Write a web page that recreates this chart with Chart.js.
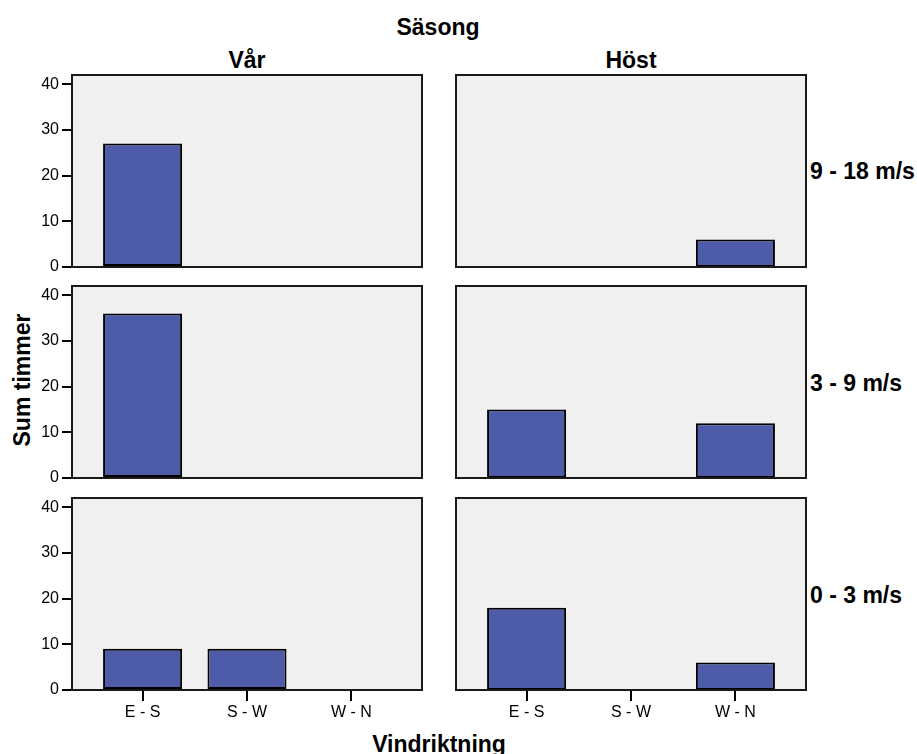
<!DOCTYPE html>
<html>
<head>
<meta charset="utf-8">
<script src="https://cdn.jsdelivr.net/npm/chart.js@4.4.1/dist/chart.umd.min.js"></script>
<style>
  body { margin: 0; background: #fff; font-family: "Liberation Sans", Arial, sans-serif; }
  #wrap { position: relative; width: 917px; height: 754px; }
  canvas { position: absolute; }
  .lbl { position: absolute; font-weight: bold; font-size: 23px; line-height: 1; white-space: nowrap; color: #000; }
  .c { transform: translate(-50%, -50%); }
  .l { transform: translate(0, -50%); }
</style>
</head>
<body>
<div id="wrap">
  <div class="lbl c" style="left:438px; top:27px;">Säsong</div>
  <div class="lbl c" style="left:247px; top:60px;">Vår</div>
  <div class="lbl c" style="left:631px; top:60px;">Höst</div>
  <div class="lbl l" style="left:810px; top:171px;">9 - 18 m/s</div>
  <div class="lbl l" style="left:810px; top:383px;">3 - 9 m/s</div>
  <div class="lbl l" style="left:810px; top:595px;">0 - 3 m/s</div>
  <div class="lbl c" style="left:22px; top:380px; transform: translate(-50%, -50%) rotate(-90deg);">Sum timmer</div>
  <div class="lbl c" style="left:439px; top:744px;">Vindriktning</div>
</div>
<script>
const directions = ['E - S', 'S - W', 'W - N'];
const yTicks = [0, 10, 20, 30, 40];
const yMax = 42;

// Sum timmer per vindriktning, one array per panel
const varHigh = [27, 0, 0];
const hostHigh = [0, 0, 6];
const varMid = [36, 0, 0];
const hostMid = [15, 0, 12];
const varLow = [9, 9, 0];
const hostLow = [18, 0, 6];

const colX = [72, 456];
const rowY = [75, 286, 498];
const panelW = 350;
const panelH = 192;

const framePlugin = {
  id: 'frame',
  beforeDraw(chart) {
    const a = chart.chartArea;
    const ctx = chart.ctx;
    ctx.save();
    ctx.fillStyle = '#f0f0f0';
    ctx.fillRect(a.left, a.top, a.right - a.left, a.bottom - a.top);
    ctx.restore();
  },
  afterDatasetsDraw(chart) {
    const a = chart.chartArea;
    const ctx = chart.ctx;
    ctx.save();
    ctx.strokeStyle = '#1a1a1a';
    ctx.lineWidth = 2;
    ctx.strokeRect(a.left, a.top, a.right - a.left, a.bottom - a.top);
    ctx.restore();
  }
};

function makePanel(values, col, row) {
  const showY = col === 0;
  const showX = row === 2;
  const bx = colX[col], by = rowY[row];
  const left = showY ? 0 : bx - 10;
  const top = by - 6;
  const width = bx + panelW + 8 - left;
  const height = 6 + panelH + (showX ? 40 : 6);

  const canvas = document.createElement('canvas');
  canvas.width = width;
  canvas.height = height;
  canvas.style.left = left + 'px';
  canvas.style.top = top + 'px';
  document.getElementById('wrap').appendChild(canvas);

  new Chart(canvas, {
    type: 'bar',
    data: {
      datasets: [{
        data: values.map((v, i) => ({ x: i, y: v === 0 ? null : v })),
        backgroundColor: '#4d5ba8',
        borderColor: '#000',
        borderWidth: 2,
        borderSkipped: false,
        barPercentage: 0.757,
        categoryPercentage: 1
      }]
    },
    options: {
      responsive: false,
      animation: false,
      layout: { padding: { top: 6, right: 8, bottom: showX ? 0 : 6, left: showY ? 0 : 10 } },
      plugins: { legend: { display: false }, tooltip: { enabled: false } },
      scales: {
        x: {
          type: 'linear',
          display: showX,
          offset: false,
          min: -0.676,
          max: 2.676,
          afterBuildTicks: s => { s.ticks = directions.map((d, i) => ({ value: i })); },
          afterFit: s => {
            if (showX) s.height = 40;
            s.paddingLeft = 0;
            s.paddingRight = 0;
          },
          ticks: {
            callback: v => directions[v],
            autoSkip: false,
            maxRotation: 0,
            padding: 2,
            color: '#000',
            font: { family: '"Liberation Sans", Arial, sans-serif', size: 16 }
          },
          grid: { offset: false, drawOnChartArea: false, drawTicks: true, tickLength: 11, color: '#000', lineWidth: 2 },
          border: { display: false }
        },
        y: {
          display: showY,
          min: 0,
          max: yMax,
          afterBuildTicks: s => { s.ticks = yTicks.map(v => ({ value: v })); },
          afterFit: s => {
            if (showY) s.width = bx - left;
            s.paddingTop = 0;
            s.paddingBottom = 0;
          },
          ticks: {
            padding: 3,
            color: '#000',
            font: { family: '"Liberation Sans", Arial, sans-serif', size: 16 }
          },
          grid: { drawOnChartArea: false, drawTicks: true, tickLength: 10, color: '#000', lineWidth: 2 },
          border: { display: false }
        }
      }
    },
    plugins: [framePlugin]
  });
}

makePanel(varHigh, 0, 0);
makePanel(hostHigh, 1, 0);
makePanel(varMid, 0, 1);
makePanel(hostMid, 1, 1);
makePanel(varLow, 0, 2);
makePanel(hostLow, 1, 2);
</script>
</body>
</html>
